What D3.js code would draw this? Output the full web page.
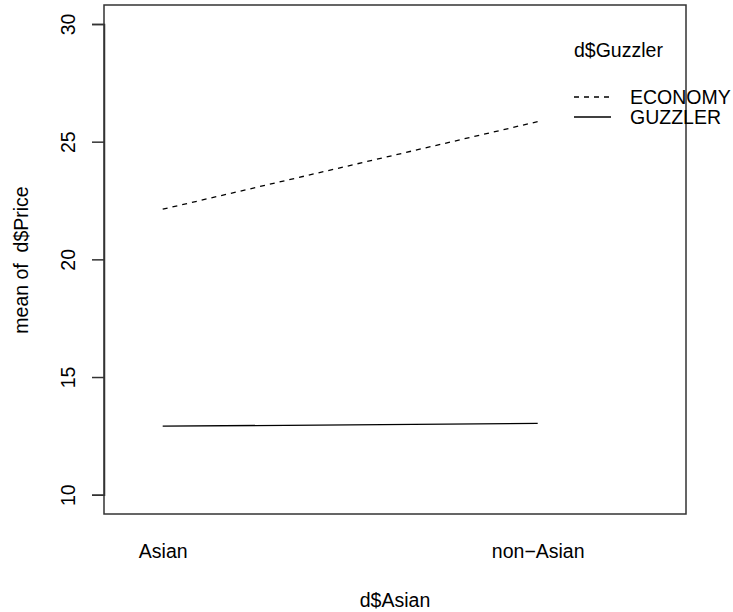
<!DOCTYPE html>
<html><head><meta charset="utf-8">
<script src="https://cdn.jsdelivr.net/npm/d3@7"></script>
<style>body{margin:0;background:#fff}svg{display:block}text{font-family:"Liberation Sans",Arial,sans-serif;fill:#000}</style>
</head><body><svg id="c" width="733" height="612"></svg>
<script>
const categories = ["Asian", "non\u2212Asian"];
const seriesNames = ["ECONOMY", "GUZZLER"];
const economy = [22.13, 25.85];
const guzzler = [12.91, 13.03];
const yTicks = [10, 15, 20, 25, 30];

const svg = d3.select("#c");
const FS = 19.5;
const box = {l:104, r:686, t:5, b:514};
const x = d3.scaleLinear().domain([1, 2]).range([162.7, 537.7]);
const y = d3.scaleLinear().domain([10, 30]).range([494.7, 24]);

// lines
const line = d3.line().x((d,i)=>x(i+1)).y(d=>y(d));
svg.append("path").attr("d", line(economy)).attr("fill","none").attr("stroke","#000")
  .attr("stroke-width",1.3).attr("stroke-dasharray","5,5");
svg.append("path").attr("d", line(guzzler)).attr("fill","none").attr("stroke","#000")
  .attr("stroke-width",1.3);

// box
svg.append("rect").attr("x",box.l).attr("y",box.t).attr("width",box.r-box.l).attr("height",box.b-box.t)
  .attr("fill","none").attr("stroke","#333").attr("stroke-width",1.5);

// y axis
const yAxis = d3.axisLeft(y).tickValues(yTicks).tickSize(12).tickPadding(0).tickFormat(d3.format("d"));
const ga = svg.append("g").attr("transform",`translate(${box.l},0)`).call(yAxis);
ga.select(".domain").attr("stroke","#333").attr("stroke-width",1.5);
ga.selectAll(".tick line").attr("stroke","#333").attr("stroke-width",1.5);
ga.selectAll(".tick text").remove();
ga.selectAll(".tick").append("text")
  .attr("transform","translate(-36,0) rotate(-90)")
  .attr("text-anchor","middle").attr("dominant-baseline","central")
  .style("font-size",FS+"px").text(d=>d);

// x labels
const xAxis = d3.axisBottom(x).tickValues([1,2]).tickSize(0).tickPadding(0).tickFormat((d)=>categories[d-1]);
const gx = svg.append("g").attr("transform",`translate(0,${box.b})`).call(xAxis);
gx.select(".domain").remove();
gx.selectAll(".tick text").attr("dy",null).attr("y",37).attr("dominant-baseline","central")
  .attr("fill","#000").style("font-size",FS+"px").style("font-family",'"Liberation Sans",Arial,sans-serif');

// axis titles
svg.append("text").attr("x",395).attr("y",600).attr("text-anchor","middle")
  .attr("dominant-baseline","central").style("font-size",FS+"px").text("d$Asian");
svg.append("text").attr("transform",`translate(21,260) rotate(-90)`).attr("text-anchor","middle")
  .attr("dominant-baseline","central").style("font-size",FS+"px").style("white-space","pre")
  .text("mean of  d$Price");

// legend
svg.append("text").attr("x",574).attr("y",50).attr("dominant-baseline","central")
  .style("font-size",FS+"px").text("d$Guzzler");
const dashes = ["5,5", null];
seriesNames.forEach((n,i)=>{
  const yy = 97 + i*20;
  svg.append("line").attr("x1",574).attr("x2",611).attr("y1",yy).attr("y2",yy)
    .attr("stroke","#000").attr("stroke-width",1.3).attr("stroke-dasharray",dashes[i]);
  svg.append("text").attr("x",630).attr("y",yy).attr("dominant-baseline","central")
    .style("font-size",FS+"px").text(n);
});
</script></body></html>
